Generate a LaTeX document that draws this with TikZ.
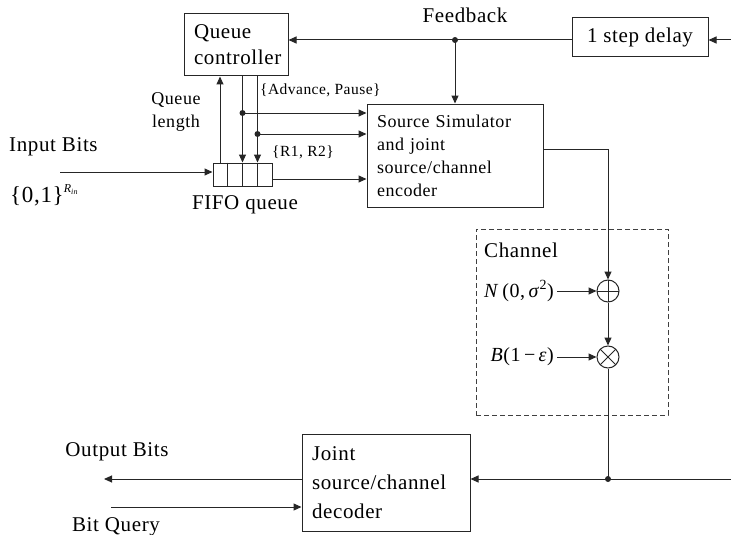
\documentclass[tikz,border=0pt]{standalone}
\usepackage{fontspec}
\setmainfont{Liberation Serif}[LetterSpace=3]
\usetikzlibrary{arrows.meta,calc}

\tikzset{
  ink/.style={black!85},
  wire/.style={ink, line width=1pt},
  arr/.style={wire, -{Triangle[length=8pt,width=7pt]}},
  block/.style={draw=black!85, line width=1pt, rectangle, inner sep=0pt},
  jdot/.style={circle, fill=black!85, inner sep=0pt, minimum size=6pt},
  bigtxt/.style={font=\fontsize{21}{26}\selectfont, inner sep=1pt},
  midtxt/.style={font=\fontsize{18}{23}\selectfont, inner sep=1pt},
  smalltxt/.style={font=\fontsize{15.5}{19}\selectfont, inner sep=1pt},
  summer/.style={circle, draw=black!85, line width=1pt, minimum size=22pt, inner sep=0pt,
    path picture={\draw[line width=0.8pt, black!85]
      (path picture bounding box.north) -- (path picture bounding box.south)
      (path picture bounding box.west) -- (path picture bounding box.east);}},
  mixer/.style={circle, draw=black!85, line width=1pt, minimum size=22pt, inner sep=0pt,
    path picture={\draw[line width=0.8pt, black!85]
      (path picture bounding box.north west) -- (path picture bounding box.south east)
      (path picture bounding box.south west) -- (path picture bounding box.north east);}},
}

\begin{document}
\begin{tikzpicture}[x=1pt, y=-1pt]
  \useasboundingbox (0,0) rectangle (731,535);

  % --- blocks ---
  \node[block, minimum width=104pt, minimum height=62pt, text width=84pt, align=left,
        font=\fontsize{21}{26}\selectfont] (qc) at (236,45) {Queue\\controller};
  \node[block, minimum width=136pt, minimum height=39pt,
        font=\fontsize{21}{26}\selectfont] (delay) at (640,37.5) {1 step delay};
  \node[block, minimum width=176pt, minimum height=103pt, text width=156pt, align=left,
        font=\fontsize{18}{23}\selectfont] (src) at (455,155.5)
        {Source Simulator\\and joint\\source/channel\\encoder};
  \node[block, minimum width=59pt, minimum height=23pt] (fifo) at (242.5,174.5) {};
  \foreach \f in {0.25,0.5,0.75}
    \draw[wire] ($(fifo.north west)!\f!(fifo.north east)$) -- ($(fifo.south west)!\f!(fifo.south east)$);
  \node[block, minimum width=168pt, minimum height=97pt, text width=148pt, align=left,
        font=\fontsize{21}{29}\selectfont] (dec) at (386,482.5)
        {Joint\\source/channel\\decoder};

  % --- channel ---
  \node[draw=black!75, line width=1pt, dash pattern=on 5pt off 3pt,
        minimum width=192pt, minimum height=186pt, inner sep=0pt] (chan) at (572,322) {};
  \node[bigtxt, anchor=west] (chanlab) at (483,250) {Channel};
  \node[summer] (plus) at (608,291) {};
  \node[mixer] (times) at (608,357) {};
  \node[font=\fontsize{20}{22}\selectfont, inner sep=1pt, anchor=east] (noise) at (555,291)
        {\textit{N}\,(0,\,\textit{σ}\textsuperscript{2})};
  \node[font=\fontsize{20}{22}\selectfont, inner sep=1pt, anchor=east] (erase) at (555,357)
        {\textit{B}(1\,−\,\textit{ε})};

  % --- labels ---
  \node[bigtxt] (fblab) at (465,15) {Feedback};
  \node[smalltxt, anchor=west] (advlab) at (259,90) {\{Advance, Pause\}};
  \node[smalltxt, anchor=west] (ratelab) at (271,152) {\{R1, R2\}};
  \node[midtxt, align=center] (qlen) at (176,112) {Queue\\length};
  \node[bigtxt] (fifolab) at (245,205) {FIFO queue};
  \node[bigtxt, anchor=west] (inlab) at (8,147) {Input Bits};
  \node[inner sep=1pt, anchor=west] (alpha) at (9,195)
        {\fontsize{23}{26}\selectfont\{0,1\}\raisebox{10pt}{\fontsize{12}{12}\selectfont\itshape R\raisebox{-2.5pt}{\fontsize{8}{8}\selectfont in}}};
  \node[bigtxt] (outlab) at (117,452) {Output Bits};
  \node[bigtxt] (bqlab) at (116,527) {Bit Query};

  % --- connection points ---
  \coordinate (fbin) at (731,40);
  \coordinate (fbj) at (455,40);
  \coordinate (advj) at ($(fifo.north west)!0.5!(fifo.north east)$);
  \coordinate (ratej) at ($(fifo.north west)!0.75!(fifo.north east)$);
  \coordinate (qlx) at ($(fifo.north west)!0.125!(fifo.north east)$);
  \coordinate (advd) at (advj |- 0,113);
  \coordinate (rated) at (ratej |- 0,134);
  \coordinate (inb) at (60,172);
  \coordinate (fout) at (272,179);
  \coordinate (srcout) at (543,149);
  \coordinate (rxj) at (608,479);
  \coordinate (rxin) at (731,479);
  \coordinate (outb) at (104,479);
  \coordinate (bq) at (111,507);

  % --- feedback path ---
  \draw[arr] (fbin) -- (delay.east |- fbin);
  \draw[arr] (delay.west |- fbin) -- (qc.east |- fbin);
  \draw[arr] (fbj) -- (src.north -| fbj);
  \node[jdot] at (fbj) {};

  % --- queue controller and FIFO ---
  \draw[arr] (qlx) -- (qc.south -| qlx);
  \draw[arr] (qc.south -| advj) -- (advj);
  \draw[arr] (qc.south -| ratej) -- (ratej);
  \draw[arr] (advd) -- (src.west |- advd);
  \draw[arr] (rated) -- (src.west |- rated);
  \node[jdot] at (advd) {};
  \node[jdot] at (rated) {};
  \draw[arr] (inb) -- (fifo.west |- inb);
  \draw[arr] (fifo.east |- fout) -- (src.west |- fout);

  % --- channel path ---
  \draw[arr] (src.east |- srcout) -| (plus.north);
  \draw[arr] (noise.east) ++(2,0) -- (plus.west);
  \draw[arr] (plus.south) -- (times.north);
  \draw[arr] (erase.east) ++(2,0) -- (times.west);
  \draw[wire] (times.south) -- (rxj);

  % --- receiver ---
  \draw[arr] (rxin) -- (dec.east |- rxin);
  \node[jdot] at (rxj) {};
  \draw[arr] (dec.west |- outb) -- (outb);
  \draw[arr] (bq) -- (dec.west |- bq);
\end{tikzpicture}
\end{document}
